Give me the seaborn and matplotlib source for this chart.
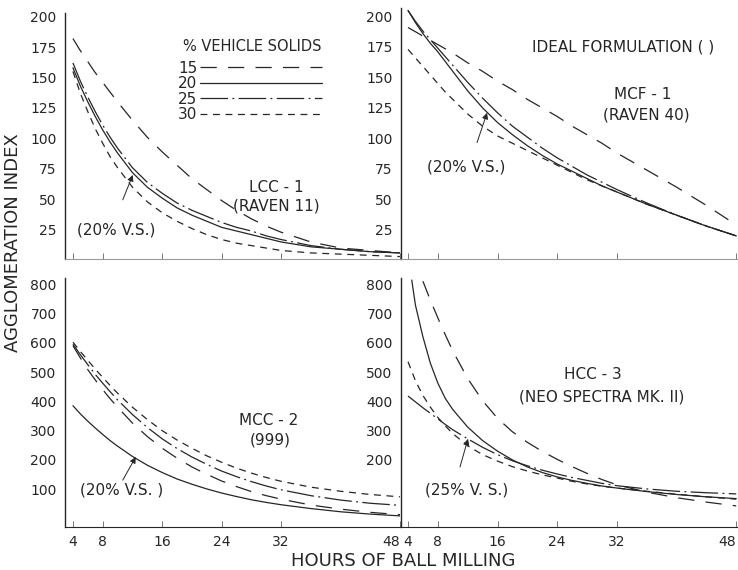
import matplotlib
matplotlib.use("Agg")
import matplotlib.pyplot as plt
import pandas as pd
import seaborn as sns

# ---- data -------------------------------------------------------------
hours = [4, 5, 6, 7, 8, 9, 10, 12, 14, 16, 18, 20, 22, 24, 26, 28, 30, 32, 36, 40, 44, 48]
solids = ["15", "20", "25", "30"]
xtick_vals = [4, 8, 16, 24, 32, 48]
top_yticks = [25, 50, 75, 100, 125, 150, 175, 200]
bottom_left_yticks = [100, 200, 300, 400, 500, 600, 700, 800]
bottom_right_yticks = [200, 300, 400, 500, 600, 700, 800]

# LCC-1 (Raven 11)
lcc_15 = [182, 172, 163, 154, 146, 138, 130, 115, 101, 89, 78, 67, 58, 49, 41, 34, 28, 23, 15, 10, 8, 6]
lcc_20 = [158, 143, 130, 118, 107, 97, 88, 72, 60, 51, 43, 37, 32, 27, 24, 21, 18, 15, 11, 9, 7, 6]
lcc_25 = [162, 147, 134, 122, 111, 101, 92, 76, 64, 55, 47, 41, 36, 31, 27, 24, 20, 17, 12, 9, 7, 6]
lcc_30 = [155, 137, 122, 108, 96, 85, 76, 60, 48, 39, 32, 26, 21, 17, 14, 12, 10, 8, 6, 5, 4, 3]

# MCF-1 (Raven 40)
mcf_15 = [191, 187.5, 184, 180.5, 177, 173.5, 170, 162, 155, 147, 140, 132, 125, 118, 110, 103, 96, 88, 74, 60, 45, 29]
mcf_20 = [205, 195, 186, 178, 171, 163, 155, 139, 125, 113, 103, 94, 86, 79, 73, 67, 61, 56, 46, 37, 28, 20]
mcf_25 = [205, 196, 188, 181, 174, 167, 160, 146, 133, 121, 110, 101, 92, 84, 77, 70, 64, 58, 47, 37, 28, 20]
mcf_30 = [173, 166, 159, 152, 145, 138, 132, 120, 110, 102, 96, 90, 84, 78, 72, 66, 61, 56, 46, 37, 28, 20]

# MCC-2 (999)
mcc_15 = [590, 548, 508, 473, 440, 409, 380, 326, 280, 240, 206, 176, 151, 128, 109, 92, 78, 66, 46, 32, 21, 13]
mcc_20 = [385, 357, 332, 309, 287, 266, 247, 212, 182, 157, 135, 117, 101, 87, 75, 64, 55, 47, 34, 23, 15, 9]
mcc_25 = [595, 559, 525, 492, 462, 433, 405, 355, 311, 272, 239, 210, 185, 162, 143, 126, 111, 98, 78, 63, 52, 45]
mcc_30 = [602, 570, 540, 510, 482, 454, 428, 380, 338, 300, 268, 240, 214, 192, 172, 155, 140, 127, 107, 93, 82, 74]

# HCC-3 (Neo Spectra Mk. II)
hcc_15_hours = [6, 7, 8, 9, 10, 12, 14, 16, 18, 20, 22, 24, 26, 28, 30, 32, 36, 40, 44, 48]
hcc_15 = [810, 745, 685, 627, 572, 478, 402, 342, 296, 260, 229, 202, 177, 154, 133, 115, 90, 71, 56, 43]
hcc_20_hours = [4.5, 5, 6, 7, 8, 9, 10, 12, 14, 16, 18, 20, 22, 24, 26, 28, 30, 32, 36, 40, 44, 48]
hcc_20 = [814, 728, 620, 530, 462, 410, 372, 312, 266, 230, 200, 176, 157, 142, 130, 120, 111, 104, 92, 82, 74, 68]
hcc_25 = [418, 398, 378, 359, 340, 321, 303, 272, 243, 218, 197, 180, 165, 152, 140, 130, 120, 112, 101, 93, 88, 84]
hcc_30 = [535, 470, 420, 380, 345, 316, 290, 248, 218, 196, 177, 162, 149, 138, 127, 118, 110, 104, 93, 83, 74, 66]

# ---- styling ----------------------------------------------------------
sns.set_style("ticks")
plt.rcParams["font.family"] = ["DejaVu Sans"]

W, H = 738, 570
fig = plt.figure(figsize=(W / 100, H / 100), dpi=100)
fig.patch.set_facecolor("white")

ink = "#262626"
dash_map = {"15": (13, 9), "20": "", "25": (22, 3.5, 1.5, 3.5), "30": (5.5, 4.5)}


def px_axes(left, top, right, bottom):
    ax = fig.add_axes([left / W, 1 - bottom / H, (right - left) / W, (bottom - top) / H])
    ax.patch.set_visible(False)
    return ax


def long_frame(series):
    parts = []
    for name, (xs, ys) in series.items():
        parts.append(pd.DataFrame({"hours": xs, "index": ys, "solids": name}))
    return pd.concat(parts, ignore_index=True)


def draw_panel(ax, series, xlim, ylim, yticks, labelled_x, faint_axis):
    df = long_frame(series)
    sns.lineplot(data=df, x="hours", y="index", style="solids", style_order=solids,
                 dashes=dash_map, color=ink, linewidth=0.9, estimator=None,
                 sort=False, legend=False, ax=ax)
    ax.set_xlim(*xlim)
    ax.set_ylim(*ylim)
    ax.set_xticks(xtick_vals)
    ax.set_yticks(yticks)
    ax.set_xlabel("")
    ax.set_ylabel("")
    sns.despine(ax=ax)
    ax.spines["left"].set_color(ink)
    ax.spines["left"].set_linewidth(1.0)
    ax.spines["bottom"].set_color("#9a9a9a" if faint_axis else ink)
    ax.spines["bottom"].set_linewidth(0.8)
    ax.tick_params(axis="x", direction="in", length=4, width=0.7, color="#777777",
                   labelsize=10, pad=6, labelcolor=ink, labelbottom=labelled_x)
    ax.tick_params(axis="y", length=0, pad=6, labelsize=10, labelcolor=ink)


def pointer(ax, tip, tail):
    ax.annotate("", xy=tip, xytext=tail,
                arrowprops=dict(arrowstyle="-|>", color=ink, lw=0.7,
                                mutation_scale=9, shrinkA=0, shrinkB=0))


left_x = (2.93, 48.0)
right_x = (3.06, 48.24)
top_y = (1, 203)
top_y_right = (1, 207)
bot_y = (-29, 821)

ax_tl = px_axes(65, 13, 400, 259)
ax_tr = px_axes(401, 8, 738, 259)
ax_bl = px_axes(65, 278, 400, 527)
ax_br = px_axes(401, 278, 738, 527)

draw_panel(ax_tl, {"15": (hours, lcc_15), "20": (hours, lcc_20),
                   "25": (hours, lcc_25), "30": (hours, lcc_30)},
           left_x, top_y, top_yticks, False, True)
draw_panel(ax_tr, {"15": (hours, mcf_15), "20": (hours, mcf_20),
                   "25": (hours, mcf_25), "30": (hours, mcf_30)},
           right_x, top_y_right, top_yticks, False, True)
draw_panel(ax_bl, {"15": (hours, mcc_15), "20": (hours, mcc_20),
                   "25": (hours, mcc_25), "30": (hours, mcc_30)},
           left_x, bot_y, bottom_left_yticks, True, False)
draw_panel(ax_br, {"15": (hcc_15_hours, hcc_15), "20": (hcc_20_hours, hcc_20),
                   "25": (hours, hcc_25), "30": (hours, hcc_30)},
           right_x, bot_y, bottom_right_yticks, True, False)

# the "48" labels sit just left of their ticks
for ax in (ax_bl, ax_br):
    for lab in ax.get_xticklabels():
        if lab.get_text() == "48":
            lab.set_horizontalalignment("right")

# ---- key ---------------------------------------------------------------
ax_tl.text(0.558, 0.862, "% VEHICLE SOLIDS", transform=ax_tl.transAxes,
           ha="center", va="center", fontsize=10.5, color=ink)
ax_tl.legend(ax_tl.get_lines()[:4], solids, markerfirst=False, frameon=False,
             fontsize=11, handlelength=8.0, handletextpad=0.15, labelspacing=0.03,
             loc="upper left", bbox_to_anchor=(0.338, 0.806), borderpad=0,
             borderaxespad=0, labelcolor=ink)

# ---- panel annotations -------------------------------------------------
fs = 11
ax_tl.text(31.4, 59.5, "LCC - 1", ha="center", va="center", fontsize=fs, color=ink)
ax_tl.text(31.4, 44.7, "(RAVEN 11)", ha="center", va="center", fontsize=fs, color=ink)
ax_tl.text(9.8, 25, "(20% V.S.)", ha="center", va="center", fontsize=fs, color=ink)
pointer(ax_tl, (12.05, 70), (10.7, 49.6))

ax_tr.text(32.8, 175.4, "IDEAL FORMULATION ( )", ha="center", va="center",
           fontsize=fs, color=ink)
ax_tr.text(35.5, 135.9, "MCF - 1", ha="center", va="center", fontsize=fs, color=ink)
ax_tr.text(36.0, 119.5, "(RAVEN 40)", ha="center", va="center", fontsize=fs, color=ink)
ax_tr.text(11.8, 76.7, "(20% V.S.)", ha="center", va="center", fontsize=fs, color=ink)
pointer(ax_tr, (14.6, 121), (13.25, 96.5))

ax_bl.text(30.3, 336, "MCC - 2", ha="center", va="center", fontsize=fs, color=ink)
ax_bl.text(30.6, 268, "(999)", ha="center", va="center", fontsize=fs, color=ink)
ax_bl.text(10.6, 97, "(20% V.S. )", ha="center", va="center", fontsize=fs, color=ink)
pointer(ax_bl, (12.45, 210), (10.7, 131))

ax_br.text(28.8, 490, "HCC - 3", ha="center", va="center", fontsize=fs, color=ink)
ax_br.text(30.0, 415, "(NEO SPECTRA MK. II)", ha="center", va="center",
           fontsize=fs, color=ink)
ax_br.text(11.8, 97, "(25% V. S.)", ha="center", va="center", fontsize=fs, color=ink)
pointer(ax_br, (12.04, 272), (10.97, 176))

# ---- shared axis titles ------------------------------------------------
fig.text(13 / W, 1 - 243 / H, "AGGLOMERATION INDEX", rotation=90, ha="center",
         va="center", fontsize=13, color=ink)
fig.text(403 / W, 1 - 561 / H, "HOURS OF BALL MILLING", ha="center", va="center",
         fontsize=13, color=ink)

fig.savefig("out.png", dpi=100, facecolor="white")
